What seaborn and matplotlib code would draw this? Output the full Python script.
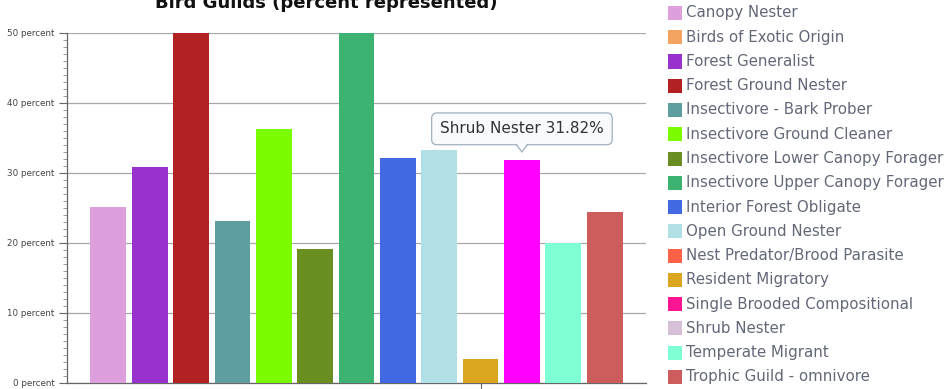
import numpy as np
import pandas as pd
import matplotlib
matplotlib.use("Agg")
import matplotlib.pyplot as plt
from matplotlib.patches import Rectangle, Polygon
from matplotlib.lines import Line2D
import seaborn as sns

# Legend entries (all guilds) and their colours
legend_names = [
    "Canopy Nester", "Birds of Exotic Origin", "Forest Generalist",
    "Forest Ground Nester", "Insectivore - Bark Prober",
    "Insectivore Ground Cleaner", "Insectivore Lower Canopy Forager",
    "Insectivore Upper Canopy Forager", "Interior Forest Obligate",
    "Open Ground Nester", "Nest Predator/Brood Parasite",
    "Resident Migratory", "Single Brooded Compositional", "Shrub Nester",
    "Temperate Migrant", "Trophic Guild - omnivore",
]
legend_colors = [
    "#DDA0DD", "#F4A460", "#9932CC", "#B22222", "#5F9EA0", "#7CFC00",
    "#6B8E23", "#3CB371", "#4169E1", "#B0E0E6", "#FF6347", "#DAA520",
    "#FF1493", "#D8BFD8", "#7FFFD4", "#CD5C5C",
]

# Guilds that have bars, with their percentages
bar_names = [
    "Canopy Nester", "Forest Generalist", "Forest Ground Nester",
    "Insectivore - Bark Prober", "Insectivore Ground Cleaner",
    "Insectivore Lower Canopy Forager", "Insectivore Upper Canopy Forager",
    "Interior Forest Obligate", "Open Ground Nester", "Resident Migratory",
    "Shrub Nester", "Temperate Migrant", "Trophic Guild - omnivore",
]
bar_values = [25.1, 30.8, 50.0, 23.1, 36.3, 19.1, 50.0, 32.1, 33.3, 3.4,
              31.82, 20.0, 24.35]
# Hovered bar is shown in the highlight colour
bar_colors = [
    "#DDA0DD", "#9932CC", "#B22222", "#5F9EA0", "#7CFC00", "#6B8E23",
    "#3CB371", "#4169E1", "#B0E0E6", "#DAA520", "#FF00FF", "#7FFFD4",
    "#CD5C5C",
]
hovered = "Shrub Nester"

y_ticks = [0, 10, 20, 30, 40, 50]
y_tick_labels = [f"{v} percent" for v in y_ticks]

sns.set_style("white")
plt.rcParams["font.family"] = ["DejaVu Sans"]

W, H = 948, 389
fig = plt.figure(figsize=(W / 100, H / 100), dpi=100)
ax = fig.add_axes([67 / W, 6.5 / H, (646 - 67) / W, (382.5 - 33) / H])

df = pd.DataFrame({"guild": bar_names, "pct": bar_values})
sns.barplot(data=df, x="guild", y="pct", hue="guild", order=bar_names,
            hue_order=bar_names, palette=dict(zip(bar_names, bar_colors)),
            width=0.864, saturation=1, legend=False, ax=ax, zorder=3,
            edgecolor="none", linewidth=0)

ax.set_xlim(-1, len(bar_names))
ax.set_ylim(0, 50)
ax.set_xlabel("")
ax.set_ylabel("")

# y axis: major ticks every 10, minor every 1
ax.set_yticks(y_ticks)
ax.set_yticklabels(y_tick_labels, fontsize=6.3, color="#444444")
ax.set_yticks(np.arange(0, 51, 1), minor=True)
ax.tick_params(axis="y", which="major", direction="out", length=6, width=0.8,
               color="#666666", pad=3, left=True)
ax.tick_params(axis="y", which="minor", direction="out", length=3, width=0.6,
               color="#888888", left=True)
ax.yaxis.grid(True, which="major", color="#a8a8a8", linewidth=0.9, zorder=0)
ax.set_axisbelow(True)

# single category tick on the x axis
ax.set_xticks([bar_names.index("Resident Migratory")])
ax.set_xticklabels([""])
ax.tick_params(axis="x", which="major", direction="out", length=6, width=0.8,
               color="#666666", bottom=True)

for side in ("top", "right"):
    ax.spines[side].set_visible(False)
for side in ("left", "bottom"):
    ax.spines[side].set_color("#666666")
    ax.spines[side].set_linewidth(0.9)

# title, partly cut off at the top edge
fig.text(326 / W, 1 - 8.5 / H, "Bird Guilds (percent represented)",
         ha="center", va="baseline", fontsize=13, fontweight="bold",
         color="#111111")

# legend column on the right
legend_color_text = "#626878"
for i, (name, col) in enumerate(zip(legend_names, legend_colors)):
    yc = 13 + i * 24.25
    fig.add_artist(Rectangle((668 / W, 1 - (yc + 7) / H), 14 / W, 14 / H,
                             transform=fig.transFigure, facecolor=col,
                             edgecolor="none"))
    fig.text(686 / W, 1 - yc / H, name, ha="left", va="center",
             fontsize=10.8, color=legend_color_text)

# hover tooltip above the highlighted bar
hx = bar_names.index(hovered)
hv = bar_values[hx]
tip_label = f"{hovered} {hv:.2f}%"
box_fc = "#f8fafc"
box_ec = "#9fb0c0"
ax.annotate(tip_label, xy=(hx, hv), xytext=(0, 22.5),
            textcoords="offset points", ha="center", va="center",
            fontsize=11, color="#333333", zorder=10,
            bbox=dict(boxstyle="round,pad=0.55,rounding_size=0.35",
                      fc=box_fc, ec=box_ec, lw=0.9),
            annotation_clip=False)

# pointer under the tooltip box (pixel coordinates)
px, py = ax.transData.transform((hx, hv))
tip_y = py + 8
base_y = py + 15.5
tri = Polygon([(px - 5.5, base_y + 1.5), (px + 5.5, base_y + 1.5), (px, tip_y)],
              closed=True, facecolor=box_fc, edgecolor="none",
              transform=None, zorder=11)
fig.add_artist(tri)
fig.add_artist(Line2D([px - 5.5, px, px + 5.5], [base_y, tip_y, base_y],
                      color=box_ec, lw=0.9, transform=None, zorder=12))

fig.savefig("out.png", dpi=100)
